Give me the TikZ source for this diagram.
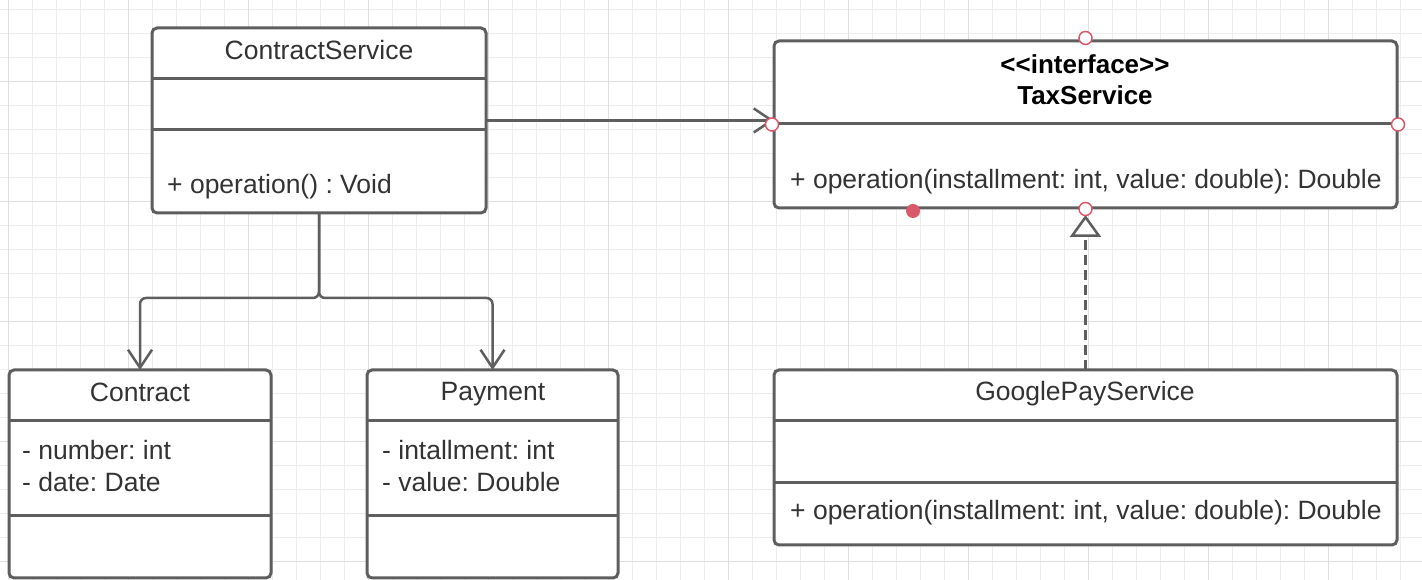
\documentclass[tikz,border=0pt]{standalone}
\usepackage{fontspec}
\setmainfont{Liberation Sans}
\usetikzlibrary{arrows.meta}
\frenchspacing

\definecolor{boxgray}{HTML}{5E5E5E}
\definecolor{linegray}{HTML}{5E5E5E}
\definecolor{textgray}{HTML}{333333}
\definecolor{gridminor}{HTML}{EDEDED}
\definecolor{gridmajor}{HTML}{DFDFDF}
\definecolor{handlered}{HTML}{D9596A}

\tikzset{
  classbox/.style={draw=boxgray, line width=3pt, rounded corners=5pt, fill=white, inner sep=0pt, outer sep=0pt},
  divider/.style={draw=boxgray, line width=3pt},
  classtext/.style={text=textgray, inner sep=0pt, font=\fontsize{26.5}{32}\selectfont},
  boldtext/.style={text=black, inner sep=0pt, font=\bfseries\fontsize{26}{32}\selectfont},
  assoc/.style={draw=linegray, line width=2.5pt, rounded corners=6pt, -{Straight Barb[length=18pt, width=24pt]}},
  realize/.style={draw=linegray, line width=2.5pt, dash pattern=on 10pt off 5pt, -{Triangle[open, length=22pt, width=31pt, fill=white]}},
  handle/.style={circle, draw=handlered, fill=white, line width=1.5pt, minimum size=13pt, inner sep=0pt},
  handledot/.style={circle, fill=handlered, minimum size=14pt, inner sep=0pt}
}

\begin{document}
\begin{tikzpicture}[x=1pt, y=1pt]

\useasboundingbox (0,0) rectangle (1422,580);

% Draw Grid

\fill[white] (0,0) rectangle (1422,580);

\draw[gridminor, line width=1pt, step=24pt, shift={(8pt,18pt)}] (-8,-18) grid (1414,562);

\draw[gridmajor, line width=1pt, step=120pt, shift={(8pt,18pt)}] (-8,-18) grid (1414,562);

% Draw ContractService

\node[classbox, minimum width=334pt, minimum height=185pt] (cs) at (319,459.5) {};

\draw[divider] ([yshift=-51pt]cs.north west) -- ([yshift=-51pt]cs.north east);

\draw[divider] ([yshift=-102pt]cs.north west) -- ([yshift=-102pt]cs.north east);

\node[classtext] (csname) at (319,530) {ContractService};

\node[classtext, anchor=west] (csop) at (167,393) {+ operation() : Void};

% Draw TaxService

\node[classbox, minimum width=623pt, minimum height=167pt] (tax) at (1085.5,455.5) {};

\draw[divider] ([yshift=-83pt]tax.north west) -- ([yshift=-83pt]tax.north east);

\node[boldtext] (taxstereo) at (1085,516) {<{}<interface>{}>};

\node[boldtext] (taxname) at (1085,485) {TaxService};

\node[classtext, anchor=west] (taxop) at (790,398) {+ operation(installment: int, value: double): Double};

% Draw GooglePayService

\node[classbox, minimum width=623pt, minimum height=175pt] (gps) at (1085.5,122.5) {};

\draw[divider] ([yshift=-51pt]gps.north west) -- ([yshift=-51pt]gps.north east);

\draw[divider] ([yshift=-113pt]gps.north west) -- ([yshift=-113pt]gps.north east);

\node[classtext] (gpsname) at (1085,186) {GooglePayService};

\node[classtext, anchor=west] (gpsop) at (790,67) {+ operation(installment: int, value: double): Double};

% Draw Contract

\node[classbox, minimum width=262pt, minimum height=208pt] (contract) at (140,106) {};

\draw[divider] ([yshift=-51pt]contract.north west) -- ([yshift=-51pt]contract.north east);

\draw[divider] ([yshift=-146pt]contract.north west) -- ([yshift=-146pt]contract.north east);

\node[classtext] (contractname) at (140,188) {Contract};

\node[classtext, anchor=west] (contractnum) at (22,130) {- number: int};

\node[classtext, anchor=west] (contractdate) at (22,98) {- date: Date};

% Draw Payment

\node[classbox, minimum width=251pt, minimum height=208pt] (payment) at (492.5,106) {};

\draw[divider] ([yshift=-51pt]payment.north west) -- ([yshift=-51pt]payment.north east);

\draw[divider] ([yshift=-146pt]payment.north west) -- ([yshift=-146pt]payment.north east);

\node[classtext] (paymentname) at (493,186) {Payment};

\node[classtext, anchor=west] (paymentinst) at (382,130) {- intallment: int};

\node[classtext, anchor=west] (paymentval) at (382,98) {- value: Double};

% Draw Associations

\coordinate (fork) at (319,282);

\draw[assoc] (cs.south) |- (fork -| contract.north) -- (contract.north);

\draw[assoc] (cs.south) |- (fork -| payment.north) -- (payment.north);

\draw[assoc] (cs.east) -- (cs.east -| tax.west);

% Draw Realization

\draw[realize, shorten >=7pt] (gps.north) -- (tax.south);

% Draw Selection Handles

\node[handle] (hnorth) at ([yshift=3pt]tax.north) {};

\node[handle] (hwest) at ([xshift=-2pt]tax.west) {};

\node[handle] (heast) at ([xshift=1pt]tax.east) {};

\node[handle] (hsouth) at ([yshift=-1pt]tax.south) {};

\node[handledot] (hdot) at ([xshift=139pt, yshift=-3pt]tax.south west) {};

\end{tikzpicture}
\end{document}
